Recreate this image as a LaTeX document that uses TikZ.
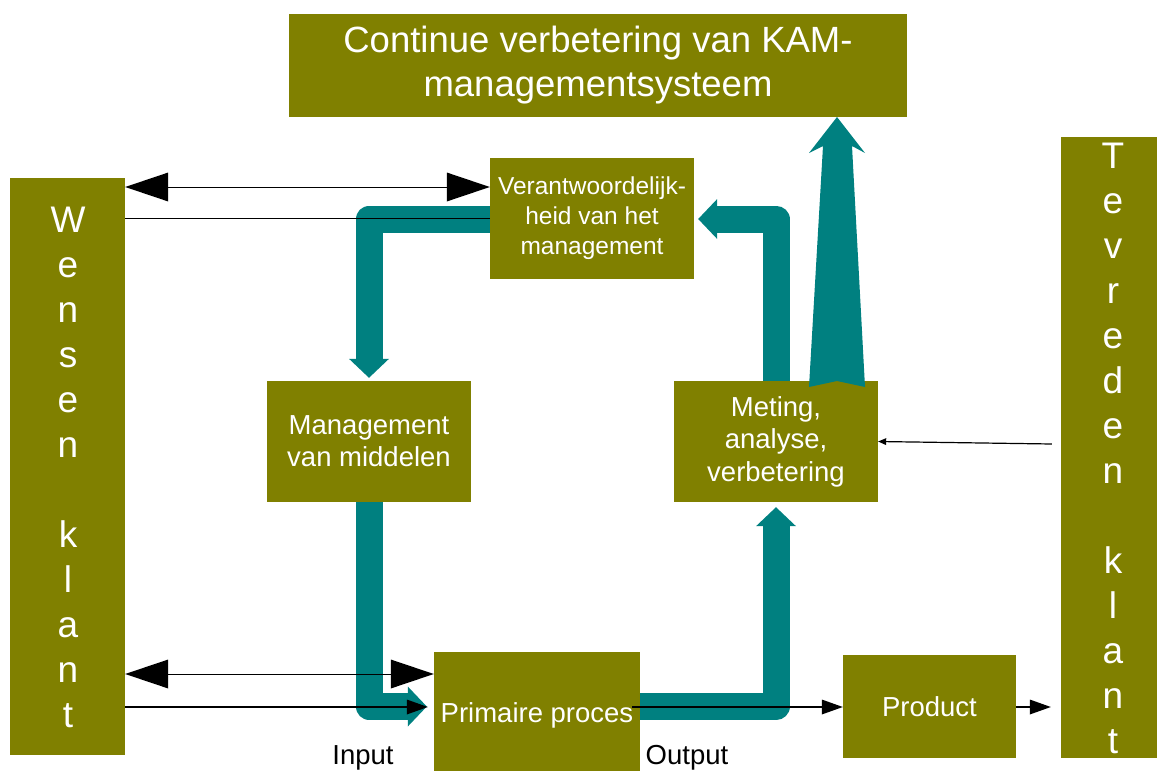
\documentclass[tikz,border=0pt]{standalone}
\usepackage{fontspec}
\setmainfont{Liberation Sans}
\usetikzlibrary{arrows.meta,calc}
\definecolor{kamolive}{HTML}{808000}
\definecolor{kamteal}{HTML}{008080}
\begin{document}
\begin{tikzpicture}[x=1pt,y=-1pt,
  box/.style={fill=kamolive, draw=none, text=white, align=center, inner sep=0pt},
  midbox/.style={box, minimum width=204pt, minimum height=121pt},
  midfont/.style={font=\fontsize{27.5}{32}\selectfont},
  letter/.style={anchor=base, text=white, inner sep=0pt, font=\fontsize{37}{37}\selectfont},
  tealflow/.style={draw=kamteal, line width=27pt, line join=round,
    -{Triangle[length=19pt,width=40pt,line width=0pt]}},
  bigtips/.style={line width=0.8pt,
    {Triangle[length=43pt,width=29pt,line width=0pt]}-{Triangle[length=43pt,width=29pt,line width=0pt]}},
  flowline/.style={line width=2.8pt, -{Triangle[length=21pt,width=15pt,line width=0pt]}},
  thinflow/.style={line width=1.2pt, -{Triangle[length=8pt,width=7pt,line width=0pt]}}
]
\useasboundingbox (0,0) rectangle (1157,771);

% boxes
\node[box, minimum width=618pt, minimum height=103pt, font=\fontsize{36.5}{44}\selectfont]
  (top) at (598,65.5) {Continue verbetering van KAM-\\managementsysteem};
\node[box, minimum width=115pt, minimum height=577pt] (wensen) at (67.5,466.5) {};
\node[box, minimum width=96pt, minimum height=621pt] (tevreden) at (1109,447.5) {};
\node[midbox, font=\fontsize{24.5}{30}\selectfont] (verant) at (592,218.5)
  {Verantwoordelijk-\\heid van het\\management};
\node[midbox, midfont] (mgmt) at (369,441.5) {Management\\van middelen};
\node[midbox, font=\fontsize{27.5}{32.5}\selectfont] (meting) at (776,441.5)
  {Meting,\\analyse,\\verbetering};
\node[box, minimum width=206pt, minimum height=126pt, midfont] (primaire) at (537,715) {Primaire proces};
\node[box, minimum width=173pt, minimum height=103pt, midfont] (product) at (929.5,706.5) {Product};

% vertical letters
\foreach \c/\k [count=\n] in {W/0,e/1,n/2,s/3,e/4,n/5,k/7,l/8,a/9,n/10,t/11}
  \node[letter] (wl\n) at (68,{232+45*\k}) {\c};
\foreach \c/\k [count=\n] in {T/0,e/1,v/2,r/3,e/4,d/5,e/6,n/7,k/9,l/10,a/11,n/12,t/13}
  \node[letter] (tl\n) at (1113,{168+45*\k}) {\c};

% labels
\node[anchor=base, inner sep=0pt, midfont] (input) at (363,764) {Input};
\node[anchor=base, inner sep=0pt, midfont] (output) at (687,764) {Output};

% row coordinates
\coordinate (r187) at (0,187);
\coordinate (r218) at (0,218);
\coordinate (r219) at (0,219);
\coordinate (r674) at (0,674);
\coordinate (r706) at (0,706.5);
\coordinate (r707) at (0,707);
\coordinate (r444) at (0,444);

% teal flow
\draw[tealflow, shorten >=3pt] (verant.west|-r219) -| (mgmt.north);
\draw[tealflow, shorten >=7pt] (mgmt.south) |- (primaire.west|-r706);
\draw[tealflow, shorten >=5pt] (primaire.east|-r706) -| (meting.south);
\draw[tealflow, shorten >=4pt] (meting.north) |- (verant.east|-r219);
\fill[kamteal] (809,387) -- (823,146) -- (809,153) -- (837,117) -- (865,153)
  -- (852,146) -- (865,387) -- (837,381) -- cycle;

% black connectors
\draw[bigtips] (wensen.east|-r187) -- (verant.west|-r187);
\draw[line width=0.8pt] (wensen.east|-r218) -- (verant.west|-r218);
\draw[bigtips] (wensen.east|-r674) -- (primaire.west|-r674);
\draw[flowline, shorten >=6pt] (wensen.east|-r707) -- (primaire.west|-r707);
\draw[flowline] ($(primaire.east|-r707)+(-8,0)$) -- (product.west|-r707);
\draw[flowline] (product.east|-r707) -- ($(tevreden.west|-r707)+(-10,0)$);
\draw[thinflow] ($(tevreden.west|-r444)+(-9,0)$) -- (meting.east);
\end{tikzpicture}
\end{document}
